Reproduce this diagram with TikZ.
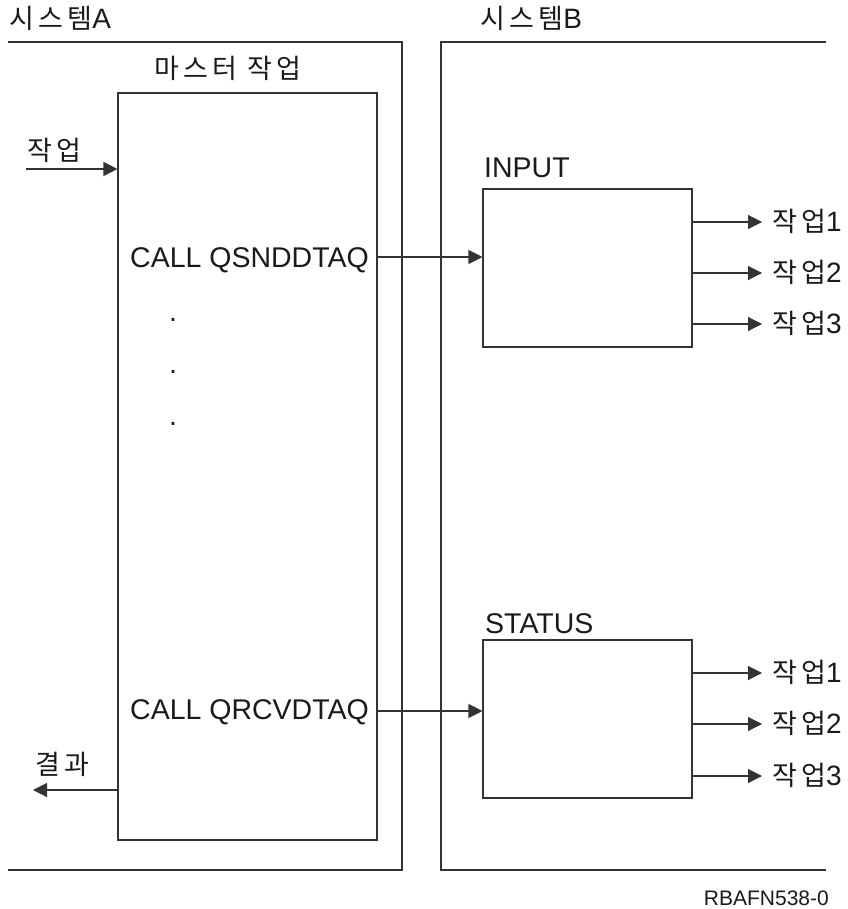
\documentclass[tikz,border=0pt]{standalone}
\usepackage{fontspec}
\setmainfont{Liberation Sans}
\newfontfamily\kr[LetterSpace=16]{Noto Sans CJK KR}
\usetikzlibrary{arrows.meta}
\definecolor{lncol}{HTML}{333333}
\definecolor{tx}{HTML}{1A1A1A}
\newcommand{\latf}{\normalfont\fontsize{28}{30}\selectfont}
\begin{document}
\begin{tikzpicture}[x=1pt,y=-1pt,
  ln/.style={draw=lncol, line width=1.1pt},
  box/.style={ln, rectangle, inner sep=0pt},
  arr/.style={ln, -{Triangle[length=14pt,width=14pt]}},
  lat/.style={inner sep=0pt, text=tx, font=\fontsize{28.5}{30}\selectfont},
  small/.style={inner sep=0pt, text=tx, font=\fontsize{21}{24}\selectfont},
  kor/.style={inner sep=0pt, text=tx, font=\fontsize{27}{30}\selectfont\kr},
]
\useasboundingbox (0,0) rectangle (847,909);

% system frames
\coordinate (aTL) at (8,42);
\coordinate (aTR) at (402,42);
\coordinate (aBR) at (402,870);
\coordinate (aBL) at (8,870);
\draw[ln] (aTL) -- (aTR) -- (aBR) -- (aBL);
\coordinate (bTR) at (826,42);
\coordinate (bTL) at (441,42);
\coordinate (bBL) at (441,870);
\coordinate (bBR) at (826,870);
\draw[ln] (bTR) -- (bTL) -- (bBL) -- (bBR);

% boxes
\node[box, minimum width=259pt, minimum height=747pt] (master) at (247.5,466.5) {};
\node[box, minimum width=209pt, minimum height=158pt] (input) at (587.5,268) {};
\node[box, minimum width=209pt, minimum height=158pt] (status) at (587.5,719) {};

% titles
\node[kor, anchor=base west] (tA) at (9,29) {시스템\latf A};
\node[kor, anchor=base west] (tB) at (480,29) {시스템\latf B};
\node[kor, anchor=base] (tM) at (228,79) {마스터 작업};
\node[lat, anchor=base west] (tIn) at (484,178) {INPUT};
\node[lat, anchor=base west] (tSt) at (485,633) {STATUS};

% master contents
\node[lat, anchor=base west] (snd) at (130,267) {CALL QSNDDTAQ};
\node[lat, anchor=base west] (rcv) at (130,719) {CALL QRCVDTAQ};
\node[lat, anchor=base] (d1) at (173,321) {.};
\node[lat, anchor=base] (d2) at (173,373) {.};
\node[lat, anchor=base] (d3) at (173,425) {.};

% input / result
\node[kor, anchor=base west] (lJob) at (27,161) {작업};
\coordinate (jobin) at (26,169);
\draw[arr] (jobin) -- (jobin -| master.west);
\node[kor, anchor=base west] (lRes) at (35,774) {결과};
\coordinate (res) at (33,790);
\draw[arr] (res -| master.west) -- (res);

% calls
\coordinate (sndy) at (0,257);
\draw[arr] (sndy -| master.east) -- (sndy -| input.west);
\coordinate (rcvy) at (0,711);
\draw[arr] (rcvy -| master.east) -- (rcvy -| status.west);

% outputs
\foreach \n/\y in {1/222,2/273,3/324}{
  \coordinate (i\n) at (762,\y);
  \draw[arr] (i\n -| input.east) -- (i\n);
  \node[kor, anchor=base west] (li\n) at (772,\y+9) {작업\latf\n};
}
\foreach \n/\y in {1/673,2/724,3/776}{
  \coordinate (s\n) at (762,\y);
  \draw[arr] (s\n -| status.east) -- (s\n);
  \node[kor, anchor=base west] (ls\n) at (772,\y+9) {작업\latf\n};
}

\node[small, anchor=base east] (ref) at (829,905) {RBAFN538-0};
\end{tikzpicture}
\end{document}
